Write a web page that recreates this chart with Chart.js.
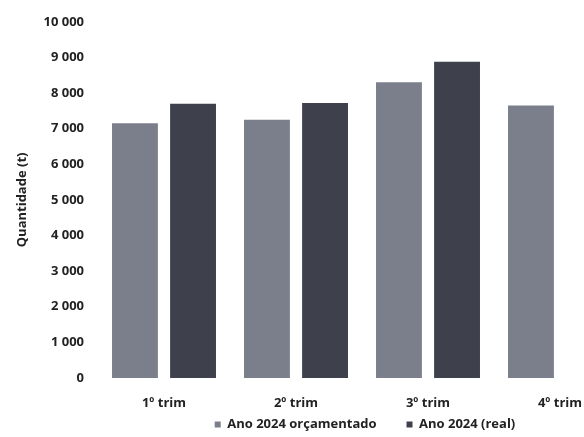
<!DOCTYPE html>
<html>
<head>
<meta charset="utf-8">
<script src="https://cdn.jsdelivr.net/npm/chart.js@4"></script>
<style>
  html, body { margin: 0; padding: 0; background: #fff; overflow: hidden; }
  #wrap { width: 730px; height: 437px; }
</style>
</head>
<body>
<div id="wrap"><canvas id="chart" width="730" height="437"></canvas></div>
<script>
// Quarterly quantities (t)
const quarters = ['1º trim', '2º trim', '3º trim', '4º trim'];
const budget2024 = [7150, 7250, 8300, 7650];
const real2024 = [7700, 7720, 8880, null];
const yTicks = [0, 1000, 2000, 3000, 4000, 5000, 6000, 7000, 8000, 9000, 10000];

const fmt = v => String(v).replace(/\B(?=(\d{3})+(?!\d))/g, ' ');
const font = { family: "'Open Sans', sans-serif", size: 13, weight: 'bold' };

new Chart(document.getElementById('chart'), {
    type: 'bar',
    data: {
        labels: quarters,
        datasets: [{
            label: 'Ano 2024 orçamentado',
            data: budget2024,
            backgroundColor: '#7b7f8b',
            pointStyle: 'rect',
        }, {
            label: 'Ano 2024 (real)',
            data: real2024,
            backgroundColor: '#3e414b',
            pointStyle: 'rect',
        }],
    },
    options: {
        responsive: false,
        animation: false,
        layout: { padding: { top: 18, bottom: -4 } },
        datasets: {
            bar: { categoryPercentage: 0.88, barPercentage: 0.79 },
        },
        scales: {
            x: {
                grid: { display: false, drawTicks: false },
                border: { display: false },
                ticks: { color: '#222', font, padding: 17, maxRotation: 0 },
                afterFit: s => { s.height = 36; },
            },
            y: {
                min: 0,
                max: 10000,
                grid: { display: false, drawTicks: false },
                border: { display: false },
                afterBuildTicks: s => { s.ticks = yTicks.map(v => ({ value: v })); },
                ticks: { color: '#222', font, padding: 14, callback: v => fmt(v) },
                title: {
                    display: true,
                    text: 'Quantidade (t)',
                    color: '#222',
                    font,
                    padding: { top: 14, bottom: 0 },
                },
                afterFit: s => { s.width = 98; },
            },
            // empty spacer on the right, keeps the legend centred like the scan
            spacer: {
                position: 'right',
                display: true,
                grid: { display: false, drawTicks: false },
                border: { display: false },
                ticks: { display: false },
                afterFit: s => { s.width = 104; },
            },
        },
        plugins: {
            legend: {
                position: 'bottom',
                labels: {
                    color: '#222',
                    font,
                    usePointStyle: true,
                    boxWidth: 6,
                    boxHeight: 6,
                    padding: 4,
                    // wider gap between the two entries without inflating the legend height
                    generateLabels: chart => {
                        const items = Chart.defaults.plugins.legend.labels.generateLabels(chart);
                        items.forEach((it, i) => {
                            if (i < items.length - 1) it.text += '\u2002\u2002\u2002\u2002';
                        });
                        return items;
                    },
                },
            },
            tooltip: { enabled: false },
        },
    },
});
</script>
</body>
</html>
